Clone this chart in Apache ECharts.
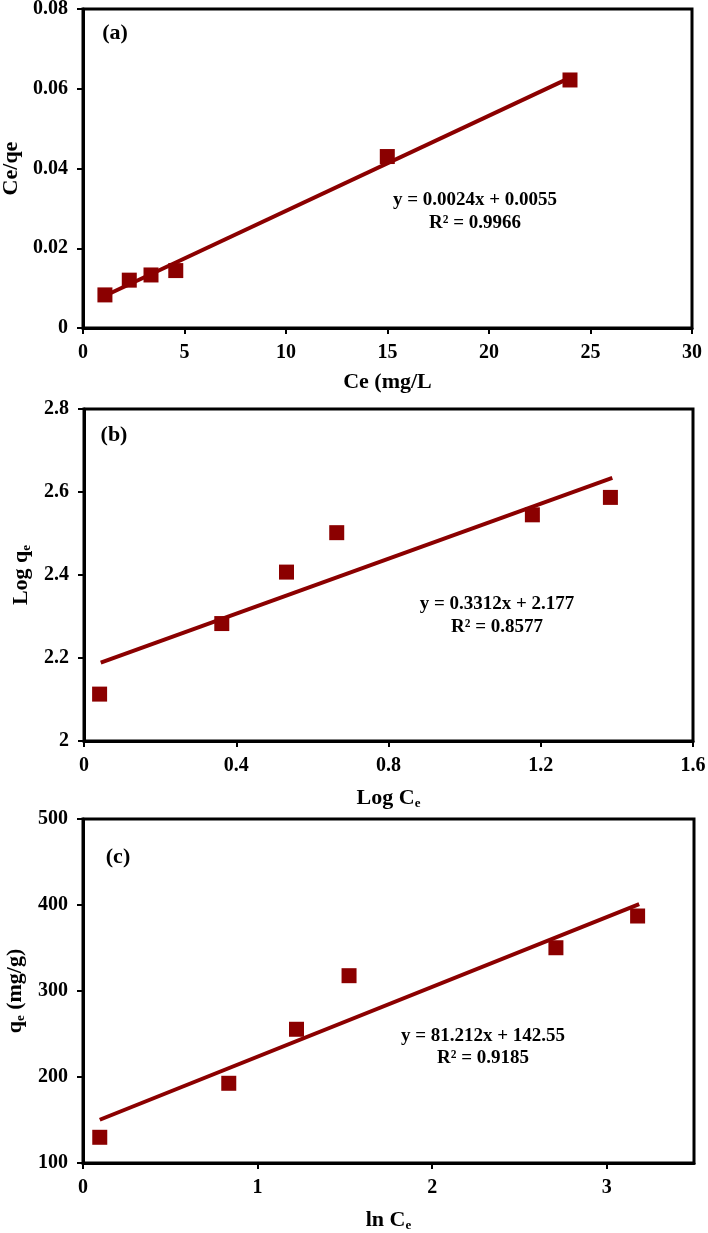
<!DOCTYPE html>
<html>
<head>
<meta charset="utf-8">
<script src="https://cdn.jsdelivr.net/npm/echarts@6/dist/echarts.min.js"></script>
<style>
html,body{margin:0;padding:0;background:#fff;}
#chart{width:708px;height:1233px;}
</style>
</head>
<body>
<div id="chart"></div>
<script>
// Panel (a): Langmuir
const xA = [1.08, 2.28, 3.35, 4.57, 14.99, 23.99];
const yA = [0.0083, 0.0120, 0.0133, 0.0144, 0.0430, 0.0622];
const fitAx = [1.08, 24.0];
const fitAy = [0.0081, 0.0628];
const eqA = ['y = 0.0024x + 0.0055', 'R² = 0.9966'];
// Panel (b): Freundlich
const xB = [0.041, 0.362, 0.532, 0.664, 1.178, 1.383];
const yB = [2.113, 2.283, 2.407, 2.502, 2.545, 2.587];
const fitBx = [0.044, 1.388];
const fitBy = [2.189, 2.634];
const eqB = ['y = 0.3312x + 2.177', 'R² = 0.8577'];
// Panel (c): Temkin
const xC = [0.096, 0.835, 1.223, 1.524, 2.709, 3.177];
const yC = [129.9, 192.7, 255.5, 317.8, 350.3, 387.2];
const fitCx = [0.096, 3.186];
const fitCy = [150.3, 401.0];
const eqC = ['y = 81.212x + 142.55', 'R² = 0.9185'];
const ticksCx = [0, 1, 2, 3];

const FONT = '"Liberation Serif", "Times New Roman", serif';
const RED = '#8B0000';
const zip = (a, b) => a.map((v, i) => [v, b[i]]);

const chart = echarts.init(document.getElementById('chart'), null, {renderer: 'canvas'});

const nameStyle = {fontFamily: FONT, fontWeight: 'bold', fontSize: 22, color: '#000',
  rich: {sub: {fontFamily: FONT, fontWeight: 'bold', fontSize: 13, color: '#000', verticalAlign: 'bottom', padding: [10, 0, 0, 0]}}};

function xAxisCfg(idx, min, max, interval, name, gap, extra) {
  return Object.assign({
    type: 'value', gridIndex: idx, min: min, max: max, interval: interval,
    name: name, nameLocation: 'middle', nameGap: gap,
    nameTextStyle: nameStyle,
    axisLine: {show: true, onZero: false, lineStyle: {color: '#000', width: 3}},
    axisTick: {show: true, inside: false, length: 6, lineStyle: {color: '#000', width: 2}},
    axisLabel: {fontFamily: FONT, fontWeight: 'bold', fontSize: 20, color: '#000', margin: 15},
    splitLine: {show: false}
  }, extra || {});
}
function yAxisCfg(idx, min, max, interval, name, gap) {
  return {
    type: 'value', gridIndex: idx, min: min, max: max, interval: interval,
    name: name, nameLocation: 'middle', nameGap: gap, nameRotate: 90,
    nameTextStyle: nameStyle,
    axisLine: {show: true, onZero: false, lineStyle: {color: '#000', width: 3}},
    axisTick: {show: true, inside: false, length: 6, lineStyle: {color: '#000', width: 2}},
    axisLabel: {fontFamily: FONT, fontWeight: 'bold', fontSize: 20, color: '#000', margin: 15},
    splitLine: {show: false}
  };
}
function fitSeries(idx, xs, ys) {
  return {type: 'line', xAxisIndex: idx, yAxisIndex: idx, data: zip(xs, ys), showSymbol: false,
    symbol: 'none', lineStyle: {color: RED, width: 4}, z: 2, silent: true, animation: false};
}
function ptSeries(idx, xs, ys) {
  return {type: 'scatter', xAxisIndex: idx, yAxisIndex: idx, data: zip(xs, ys), symbol: 'rect',
    symbolSize: 15, itemStyle: {color: RED, opacity: 1}, z: 3, animation: false};
}
function txt(x, y, s, size) {
  return {type: 'text', x: x, y: y, z: 10, style: {text: s, fill: '#000', font: 'bold ' + size + 'px ' + FONT,
    textAlign: 'center', textVerticalAlign: 'middle'}};
}

const gridStyle = {show: true, borderColor: '#000', borderWidth: 3, backgroundColor: 'transparent',
  containLabel: false, outerBoundsMode: 'none'};

chart.setOption({
  backgroundColor: '#fff',
  animation: false,
  grid: [
    Object.assign({left: 83, top: 9, width: 609, height: 319}, gridStyle),
    Object.assign({left: 84, top: 409, width: 609, height: 332}, gridStyle),
    Object.assign({left: 83, top: 819, width: 611, height: 344}, gridStyle)
  ],
  xAxis: [
    xAxisCfg(0, 0, 30, 5, 'Ce (mg/L', 43),
    xAxisCfg(1, 0, 1.6, 0.4, 'Log C{sub|e}', 46),
    xAxisCfg(2, 0, 3.5, 1, 'ln C{sub|e}', 46, {
      axisTick: {show: true, inside: false, length: 6, customValues: ticksCx, lineStyle: {color: '#000', width: 2}},
      axisLabel: {fontFamily: FONT, fontWeight: 'bold', fontSize: 20, color: '#000', margin: 15, customValues: ticksCx}
    })
  ],
  yAxis: [
    yAxisCfg(0, 0, 0.08, 0.02, 'Ce/qe', 60),
    yAxisCfg(1, 2, 2.8, 0.2, 'Log q{sub|e}', 42),
    yAxisCfg(2, 100, 500, 100, 'q{sub|e} (mg/g)', 52)
  ],
  series: [
    fitSeries(0, fitAx, fitAy), ptSeries(0, xA, yA),
    fitSeries(1, fitBx, fitBy), ptSeries(1, xB, yB),
    fitSeries(2, fitCx, fitCy), ptSeries(2, xC, yC)
  ],
  graphic: [
    txt(115, 33, '(a)', 22),
    txt(114, 435, '(b)', 22),
    txt(118, 857, '(c)', 22),
    txt(475, 200, eqA[0], 19), txt(475, 223, eqA[1], 19),
    txt(497, 604, eqB[0], 19), txt(497, 627, eqB[1], 19),
    txt(483, 1036, eqC[0], 19), txt(483, 1058, eqC[1], 19)
  ]
});
</script>
</body>
</html>
